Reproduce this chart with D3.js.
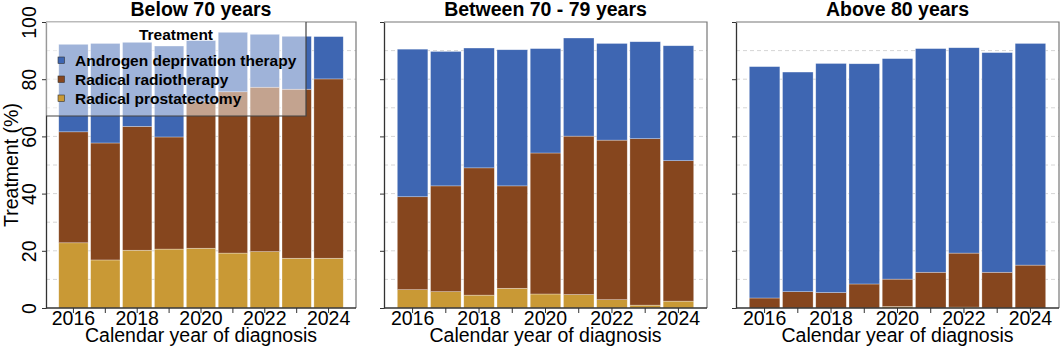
<!DOCTYPE html>
<html>
<head>
<meta charset="utf-8">
<script src="https://cdn.jsdelivr.net/npm/d3@7"></script>
<style>
  body { margin: 0; background: #fff; }
  svg { display: block; font-family: "Liberation Sans", Arial, sans-serif; }
</style>
</head>
<body>
<div id="chart"></div>
<script>
var years = [2016, 2017, 2018, 2019, 2020, 2021, 2022, 2023, 2024];
var groups = ["Below 70 years", "Between 70 - 79 years", "Above 80 years"];
var treatments = ["Androgen deprivation therapy", "Radical radiotherapy", "Radical prostatectomy"];
var colors = ["#3e66b2", "#86461e", "#c99935"];

// share (%) of each treatment per year, one row per age group
var adt = [
  [30.6, 34.8, 29.4, 31.8, 21.4, 20.8, 18.5, 18.5, 14.8],
  [51.6, 47.0, 41.9, 47.6, 36.5, 34.3, 33.8, 33.9, 40.2],
  [80.9, 76.8, 80.1, 77.0, 77.1, 78.2, 71.8, 76.8, 77.5]
];
var radio = [
  [38.8, 40.9, 43.3, 39.2, 51.2, 56.4, 57.5, 59.1, 62.7],
  [32.5, 37.0, 44.5, 35.8, 49.3, 55.4, 55.8, 58.2, 49.1],
  [3.5, 5.7, 5.4, 8.4, 9.6, 12.5, 18.9, 12.5, 15.0]
];
var prost = [
  [22.8, 16.8, 20.2, 20.6, 20.9, 19.2, 19.7, 17.4, 17.4],
  [6.4, 5.7, 4.5, 6.9, 4.9, 4.7, 2.9, 1.0, 2.4],
  [0, 0, 0, 0, 0.5, 0, 0.3, 0, 0]
];
var yTicks = [0, 20, 40, 60, 80, 100];

var width = 1061, height = 350;
var plotTop = 22, plotBottom = 308;
var panelX = [[46, 356], [384, 707], [736, 1059]];

var svg = d3.select('#chart').append('svg')
  .attr('width', width)
  .attr('height', height);

var y = d3.scaleLinear().domain([0, 100]).range([plotBottom, plotTop]);
var color = d3.scaleOrdinal().domain(['adt', 'radio', 'prost']).range(colors);

groups.forEach(function (g, i) {
  var x0 = panelX[i][0], x1 = panelX[i][1];
  var x = d3.scaleBand().domain(years).range([x0, x1])
    .paddingInner(0.08).paddingOuter(0.4);
  var pg = svg.append('g');

  // dashed grid
  pg.selectAll('line.grid')
    .data(d3.range(10, 100, 10))
    .enter().append('line')
      .attr('x1', x0).attr('x2', x1)
      .attr('y1', function (d) { return y(d); })
      .attr('y2', function (d) { return y(d); })
      .attr('stroke', '#d6d6d6')
      .attr('stroke-dasharray', '4,3');

  var rows = years.map(function (yr, j) {
    return { year: yr, adt: adt[i][j], radio: radio[i][j], prost: prost[i][j] };
  });
  var series = d3.stack().keys(['prost', 'radio', 'adt'])(rows);

  pg.selectAll('g.layer')
    .data(series)
    .enter().append('g')
      .attr('fill', function (d) { return color(d.key); })
    .selectAll('rect')
    .data(function (d) { return d; })
    .enter().append('rect')
      .attr('x', function (d) { return x(d.data.year); })
      .attr('width', x.bandwidth())
      .attr('y', function (d) { return y(d[1]); })
      .attr('height', function (d) { return y(d[0]) - y(d[1]); })
      .attr('stroke', '#fff')
      .attr('stroke-opacity', 0.5)
      .attr('stroke-width', 0.6);

  // top + right border
  pg.append('path')
    .attr('d', 'M' + x0 + ',' + plotTop + 'H' + x1 + 'V' + plotBottom)
    .attr('fill', 'none')
    .attr('stroke', '#777')
    .attr('stroke-width', 1.2);

  // y axis
  var yAxis = pg.append('g')
    .attr('transform', 'translate(' + x0 + ',0)')
    .call(d3.axisLeft(y).tickValues(yTicks).tickSize(4).tickSizeOuter(0)
      .tickFormat(i === 0 ? d3.format('d') : function () { return ''; }));
  yAxis.select('.domain').attr('stroke', '#333').attr('stroke-width', 1.3);
  yAxis.selectAll('.tick line').attr('stroke', '#333');
  yAxis.selectAll('.tick text')
    .attr('transform', 'rotate(-90)')
    .attr('x', 0).attr('y', -10.5).attr('dy', 0)
    .attr('text-anchor', 'middle')
    .attr('font-size', 19.5)
    .attr('font-family', '"Liberation Sans", Arial, sans-serif')
    .attr('fill', '#000');

  // x axis
  var xAxis = pg.append('g')
    .attr('transform', 'translate(0,' + plotBottom + ')')
    .call(d3.axisBottom(x).tickSize(5).tickSizeOuter(0)
      .tickFormat(function (d) { return d % 2 === 0 ? d : ''; }));
  xAxis.select('.domain').attr('stroke', '#333').attr('stroke-width', 1.3)
    .attr('d', 'M' + x0 + ',0H' + x1);
  xAxis.selectAll('.tick line').attr('stroke', '#333');
  xAxis.selectAll('.tick text')
    .attr('y', 16.5).attr('dy', 0)
    .attr('font-size', 19.5)
    .attr('font-family', '"Liberation Sans", Arial, sans-serif')
    .attr('fill', '#000');

  svg.append('text')
    .attr('x', (x0 + x1) / 2).attr('y', 341.5)
    .attr('text-anchor', 'middle')
    .attr('font-size', 19.5)
    .text('Calendar year of diagnosis');

  svg.append('text')
    .attr('x', (x0 + x1) / 2).attr('y', 16)
    .attr('text-anchor', 'middle')
    .attr('font-size', 19.5)
    .attr('font-weight', 'bold')
    .text(g);
});

// y title
svg.append('text')
  .attr('transform', 'translate(18,' + ((plotTop + plotBottom) / 2) + ') rotate(-90)')
  .attr('text-anchor', 'middle')
  .attr('font-size', 19.5)
  .text('Treatment (%)');

// legend over first panel
var lg = svg.append('g');
var lgX = panelX[0][0], lgW = 260, lgH = 94;
lg.append('rect')
  .attr('x', lgX).attr('y', plotTop)
  .attr('width', lgW).attr('height', lgH)
  .attr('fill', '#fff').attr('fill-opacity', 0.5);
lg.append('path')
  .attr('d', 'M' + lgX + ',' + (plotTop + lgH) + 'H' + (lgX + lgW) + 'V' + plotTop)
  .attr('fill', 'none').attr('stroke', '#444').attr('stroke-width', 1.2);
lg.append('text')
  .attr('x', lgX + 130).attr('y', 40)
  .attr('text-anchor', 'middle')
  .attr('font-size', 15.5).attr('font-weight', 'bold')
  .text('Treatment');
var item = lg.selectAll('g.item')
  .data(treatments)
  .enter().append('g')
    .attr('transform', function (d, k) { return 'translate(' + (lgX + 15) + ',' + (60 + k * 19) + ')'; });
item.append('rect')
  .attr('x', -3).attr('y', -3).attr('width', 6.5).attr('height', 6.5)
  .attr('fill', function (d, k) { return colors[k]; })
  .attr('stroke', '#333').attr('stroke-width', 0.6);
item.append('text')
  .attr('x', 14).attr('y', 5.5)
  .attr('font-size', 15.5).attr('font-weight', 'bold')
  .text(function (d) { return d; });
</script>
</body>
</html>
